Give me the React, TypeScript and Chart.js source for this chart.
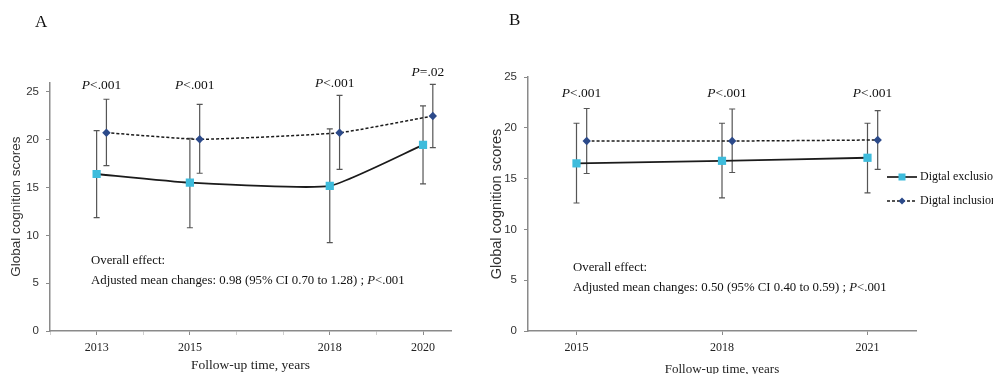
import React, { useEffect, useRef } from "react";
import { Chart, registerables } from "chart.js";
Chart.register(...registerables);

// ---------- data ----------
const seriesNames = ["Digtal exclusion", "Digtal inclusion"];
const yTickValues = [0, 5, 10, 15, 20, 25];

// Panel A
const yearsA = [2013, 2015, 2018, 2020];
const exclusionA = [16.42, 15.51, 15.17, 19.46];
const exclusionLowA = [11.85, 10.8, 9.24, 15.38];
const exclusionHighA = [20.95, 20.16, 21.13, 23.54];
const inclusionA = [20.74, 20.05, 20.74, 22.49];
const inclusionLowA = [17.29, 16.5, 16.91, 19.17];
const inclusionHighA = [24.24, 23.71, 24.65, 25.8];
const pValuesA = ["<.001", "<.001", "<.001", "=.02"];
const overallA = ["Overall effect:", "Adjusted mean changes: 0.98 (95% CI 0.70 to 1.28) ; ", "<.001"];

// Panel B
const yearsB = [2015, 2018, 2021];
const exclusionB = [16.5, 16.75, 17.05];
const exclusionLowB = [12.6, 13.1, 13.6];
const exclusionHighB = [20.45, 20.45, 20.45];
const inclusionB = [18.7, 18.7, 18.8];
const inclusionLowB = [15.5, 15.6, 15.9];
const inclusionHighB = [21.9, 21.85, 21.7];
const pValuesB = ["<.001", "<.001", "<.001"];
const overallB = ["Overall effect:", "Adjusted mean changes: 0.50 (95% CI 0.40 to 0.59) ; ", "<.001"];

// ---------- styles ----------
const SERIF = '"Liberation Serif", "Times New Roman", serif';
const SANS = '"Liberation Sans", Arial, sans-serif';
const CYAN = "#3EBCDC";
const NAVY = "#2C4A8A";
const LINE = "#1b1b1b";
const ERR = "#555555";
const AXIS = "#8a8a8a";
const SHIFT = 0.21;

type PanelOpts = {
  letter: string;
  letterX: number;
  letterY: number;
  years: number[];
  excl: number[];
  exclLow: number[];
  exclHigh: number[];
  incl: number[];
  inclLow: number[];
  inclHigh: number[];
  pValues: string[];
  overall: string[];
  xMin: number;
  xMax: number;
  yMax: number;
  minorTicks: boolean;
  padding: { left: number; right: number; top: number; bottom: number };
  yScaleWidth: number;
  yTitleSize: number;
  yTitlePad: number;
  xTitleSize: number;
  xTitlePadBottom: number;
  pCapOffset: number;
  overallDx: number;
  overallY1: number;
  overallY2: number;
  legend?: { x1: number; x2: number; tx: number; y1: number; y2: number };
};

function drawParts(ctx: CanvasRenderingContext2D, parts: { t: string; it: boolean }[], x: number, y: number, size: number, align: "left" | "center") {
  let total = 0;
  for (const p of parts) {
    ctx.font = `${p.it ? "italic " : ""}${size}px ${SERIF}`;
    total += ctx.measureText(p.t).width;
  }
  let cx = align === "center" ? x - total / 2 : x;
  ctx.textAlign = "left";
  for (const p of parts) {
    ctx.font = `${p.it ? "italic " : ""}${size}px ${SERIF}`;
    ctx.fillText(p.t, cx, y);
    cx += ctx.measureText(p.t).width;
  }
}

function makeChart(canvas: HTMLCanvasElement, o: PanelOpts) {
  const errorBars = {
    id: "errorBars",
    beforeDatasetsDraw(chart: any) {
      const ctx = chart.ctx;
      const ys = chart.scales.y;
      ctx.save();
      ctx.strokeStyle = ERR;
      ctx.lineWidth = 1.2;
      chart.data.datasets.forEach((ds: any, di: number) => {
        const meta = chart.getDatasetMeta(di);
        meta.data.forEach((pt: any, i: number) => {
          const x = pt.x;
          const yl = ys.getPixelForValue(ds.errLow[i]);
          const yh = ys.getPixelForValue(ds.errHigh[i]);
          ctx.beginPath();
          ctx.moveTo(x, yl);
          ctx.lineTo(x, yh);
          ctx.moveTo(x - 3, yl);
          ctx.lineTo(x + 3, yl);
          ctx.moveTo(x - 3, yh);
          ctx.lineTo(x + 3, yh);
          ctx.stroke();
        });
      });
      ctx.restore();
    },
  };

  const annotations = {
    id: "annotations",
    afterDraw(chart: any) {
      const ctx = chart.ctx;
      const xs = chart.scales.x;
      const ys = chart.scales.y;
      const area = chart.chartArea;
      ctx.save();
      ctx.fillStyle = "#111";
      ctx.textBaseline = "middle";
      // panel letter
      ctx.font = `17px ${SERIF}`;
      ctx.textAlign = "left";
      ctx.fillText(o.letter, o.letterX, o.letterY);
      // P labels
      o.years.forEach((yr, i) => {
        const x = xs.getPixelForValue(yr + SHIFT / 2);
        const y = Math.min(area.top + o.pCapOffset, ys.getPixelForValue(o.inclHigh[i]) - 12);
        drawParts(ctx, [{ t: "P", it: true }, { t: o.pValues[i], it: false }], x, y, 13.5, "center");
      });
      // overall effect text
      const ox = area.left + o.overallDx;
      drawParts(ctx, [{ t: o.overall[0], it: false }], ox, o.overallY1, 12.8, "left");
      drawParts(ctx, [{ t: o.overall[1], it: false }, { t: "P", it: true }, { t: o.overall[2], it: false }], ox, o.overallY2, 12.8, "left");
      // legend
      if (o.legend) {
        const L = o.legend;
        const cx = (L.x1 + L.x2) / 2;
        ctx.strokeStyle = LINE;
        ctx.lineWidth = 1.7;
        ctx.beginPath();
        ctx.moveTo(L.x1, L.y1);
        ctx.lineTo(L.x2, L.y1);
        ctx.stroke();
        ctx.fillStyle = CYAN;
        ctx.fillRect(cx - 3.5, L.y1 - 3.5, 7, 7);
        ctx.setLineDash([3, 2]);
        ctx.lineWidth = 1.4;
        ctx.beginPath();
        ctx.moveTo(L.x1, L.y2);
        ctx.lineTo(L.x2, L.y2);
        ctx.stroke();
        ctx.setLineDash([]);
        ctx.fillStyle = NAVY;
        ctx.beginPath();
        ctx.moveTo(cx, L.y2 - 3.5);
        ctx.lineTo(cx + 3.5, L.y2);
        ctx.lineTo(cx, L.y2 + 3.5);
        ctx.lineTo(cx - 3.5, L.y2);
        ctx.closePath();
        ctx.fill();
        ctx.fillStyle = "#111";
        ctx.font = `12px ${SERIF}`;
        ctx.fillText(seriesNames[0], L.tx, L.y1);
        ctx.fillText(seriesNames[1], L.tx, L.y2);
      }
      ctx.restore();
    },
  };

  const tickYears: number[] = [];
  if (o.minorTicks) {
    for (let y = Math.ceil(o.xMin); y <= Math.floor(o.xMax); y++) tickYears.push(y);
  } else {
    tickYears.push(...o.years);
  }

  const datasets: any[] = [
    {
      label: seriesNames[0],
      data: o.years.map((x, i) => ({ x, y: o.excl[i] })),
      errLow: o.exclLow,
      errHigh: o.exclHigh,
      borderColor: LINE,
      borderWidth: 1.8,
      tension: 0.15,
      pointStyle: "rect",
      pointRadius: 5.8,
      pointBackgroundColor: CYAN,
      pointBorderColor: CYAN,
      pointBorderWidth: 0,
      fill: false,
    },
    {
      label: seriesNames[1],
      data: o.years.map((x, i) => ({ x: x + SHIFT, y: o.incl[i] })),
      errLow: o.inclLow,
      errHigh: o.inclHigh,
      borderColor: LINE,
      borderWidth: 1.5,
      borderDash: [3, 2],
      tension: 0.15,
      pointStyle: "rectRot",
      pointRadius: 4.2,
      pointBackgroundColor: NAVY,
      pointBorderColor: NAVY,
      pointBorderWidth: 0,
      fill: false,
    },
  ];

  return new Chart(canvas, {
    type: "line",
    data: { datasets },
    options: {
      animation: false,
      responsive: false,
      events: [],
      layout: { padding: o.padding },
      plugins: { legend: { display: false }, tooltip: { enabled: false } },
      scales: {
        x: {
          type: "linear",
          min: o.xMin,
          max: o.xMax,
          afterBuildTicks: (s: any) => {
            s.ticks = tickYears.map((v) => ({ value: v }));
          },
          afterFit: (s: any) => {
            s.height = 43;
          },
          ticks: {
            autoSkip: false,
            maxRotation: 0,
            padding: 6,
            color: "#222",
            font: { family: SERIF, size: 12 },
            callback: (v: any) => (o.years.includes(Number(v)) ? String(v) : ""),
          },
          grid: {
            drawOnChartArea: false,
            drawTicks: true,
            tickLength: 4,
            color: AXIS,
            tickColor: (c: any) => (c.tick && o.years.includes(c.tick.value) ? AXIS : "#cfcfcf"),
          },
          border: { display: true, color: AXIS, width: 1.5 },
          title: {
            display: true,
            text: "Follow-up time, years",
            color: "#222",
            font: { family: SERIF, size: o.xTitleSize },
            padding: { top: 0, bottom: o.xTitlePadBottom },
          },
        },
        y: {
          type: "linear",
          min: 0,
          max: o.yMax,
          afterBuildTicks: (s: any) => {
            s.ticks = yTickValues.map((v) => ({ value: v }));
          },
          afterFit: (s: any) => {
            s.width = o.yScaleWidth;
          },
          ticks: { padding: 7, color: "#333", font: { family: SANS, size: 11.5 } },
          grid: { drawOnChartArea: false, drawTicks: true, tickLength: 4, color: AXIS },
          border: { display: true, color: AXIS, width: 1.5 },
          title: {
            display: true,
            text: "Global cognition scores",
            color: "#333",
            font: { family: SANS, size: o.yTitleSize },
            padding: { top: o.yTitlePad, bottom: 0 },
          },
        },
      },
    } as any,
    plugins: [errorBars, annotations],
  });
}

const panelA: PanelOpts = {
  letter: "A",
  letterX: 35,
  letterY: 23,
  years: yearsA,
  excl: exclusionA,
  exclLow: exclusionLowA,
  exclHigh: exclusionHighA,
  incl: inclusionA,
  inclLow: inclusionLowA,
  inclHigh: inclusionHighA,
  pValues: pValuesA,
  overall: overallA,
  xMin: 2012,
  xMax: 2020.6,
  yMax: 26,
  minorTicks: true,
  padding: { left: 0, right: 29, top: 82.4, bottom: 0 },
  yScaleWidth: 50,
  yTitleSize: 13.5,
  yTitlePad: 8,
  xTitleSize: 13.5,
  xTitlePadBottom: 0,
  pCapOffset: 3,
  overallDx: 41,
  overallY1: 261,
  overallY2: 281,
};

const panelB: PanelOpts = {
  letter: "B",
  letterX: 29,
  letterY: 21,
  years: yearsB,
  excl: exclusionB,
  exclLow: exclusionLowB,
  exclHigh: exclusionHighB,
  incl: inclusionB,
  inclLow: inclusionLowB,
  inclHigh: inclusionHighB,
  pValues: pValuesB,
  overall: overallB,
  xMin: 2014,
  xMax: 2022,
  yMax: 25,
  minorTicks: false,
  padding: { left: 0, right: 77, top: 77, bottom: 0 },
  yScaleWidth: 48,
  yTitleSize: 14.5,
  yTitlePad: 8,
  xTitleSize: 13,
  xTitlePadBottom: -3,
  pCapOffset: 16,
  overallDx: 45,
  overallY1: 268,
  overallY2: 288,
  legend: { x1: 407, x2: 437, tx: 440, y1: 177, y2: 201 },
};

export default function App() {
  const refA = useRef<HTMLCanvasElement>(null);
  const refB = useRef<HTMLCanvasElement>(null);
  useEffect(() => {
    const a = makeChart(refA.current!, panelA);
    const b = makeChart(refB.current!, panelB);
    return () => {
      a.destroy();
      b.destroy();
    };
  }, []);
  return (
    <div style={{ position: "fixed", left: 0, top: 0, width: 993, height: 374, background: "#fff", overflow: "hidden" }}>
      <canvas ref={refA} width={480} height={374} style={{ position: "absolute", left: 0, top: 0, width: 480, height: 374 }} />
      <canvas ref={refB} width={513} height={374} style={{ position: "absolute", left: 480, top: 0, width: 513, height: 374 }} />
    </div>
  );
}
